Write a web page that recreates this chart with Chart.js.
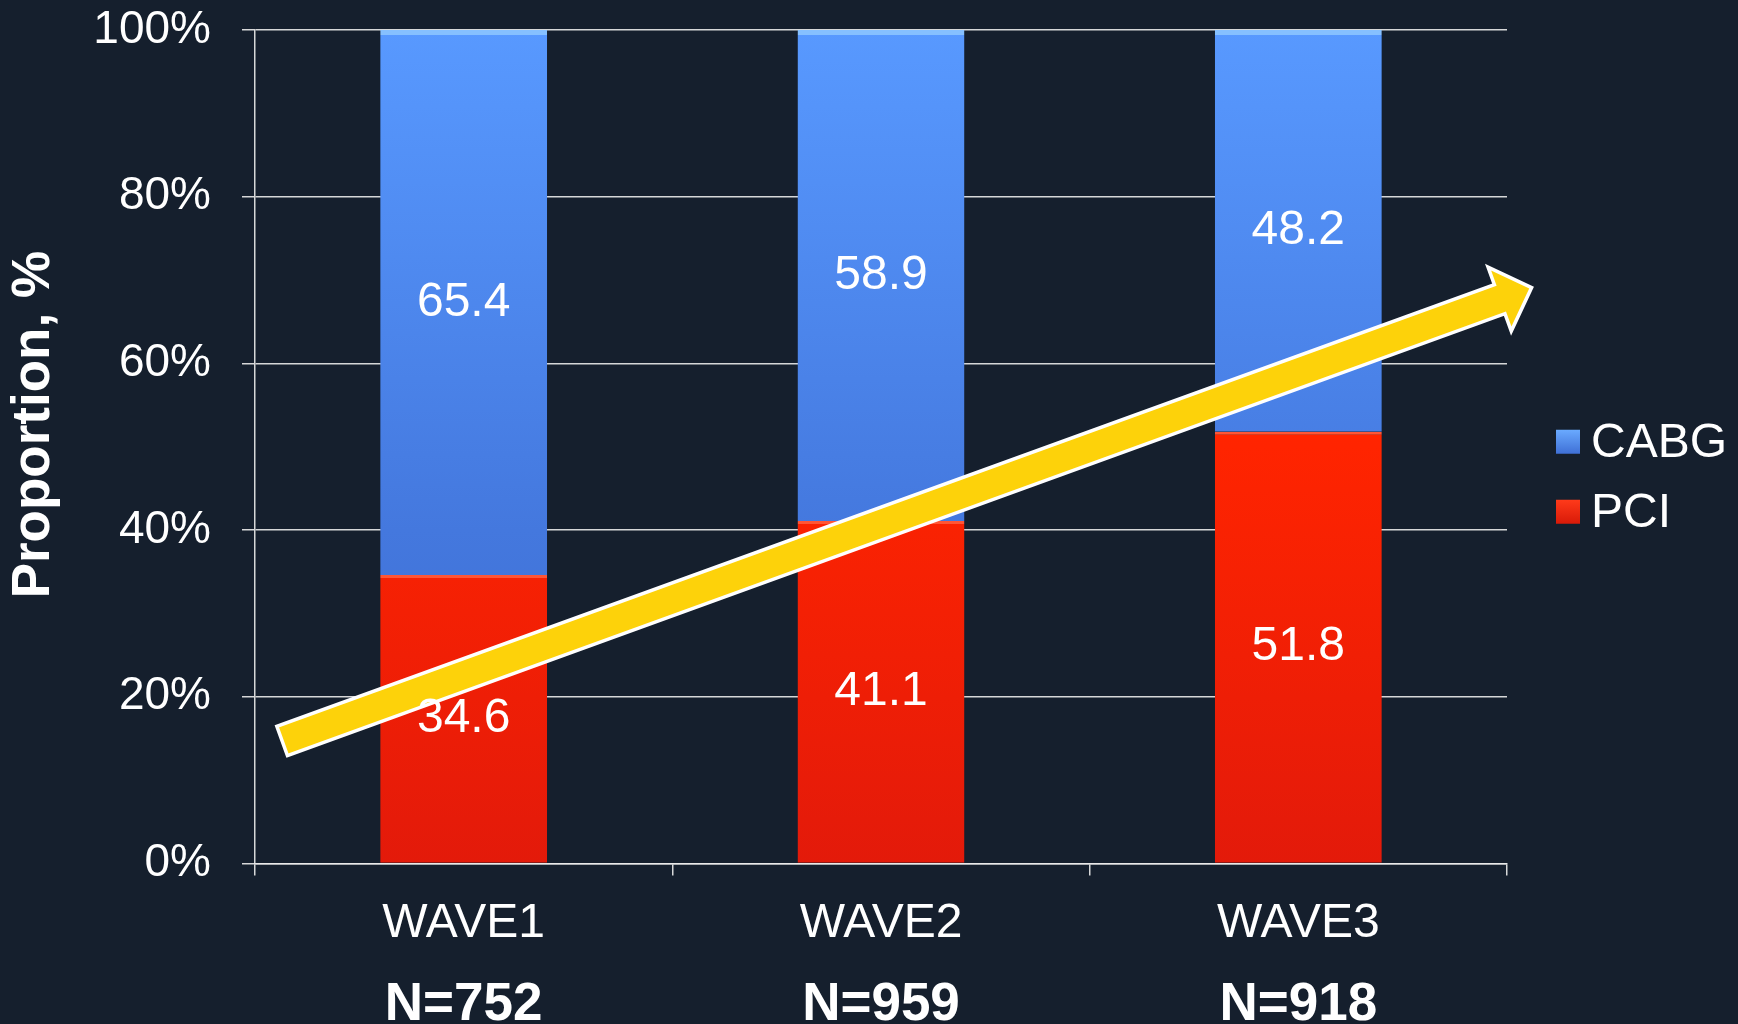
<!DOCTYPE html>
<html>
<head>
<meta charset="utf-8">
<title>PCI vs CABG by wave</title>
<script src="https://cdn.jsdelivr.net/npm/chart.js@4.4.1/dist/chart.umd.min.js"></script>
<style>
    html, body { margin: 0; padding: 0; background: #151f2d; }
    #grafico { display: block; }
</style>
</head>
<body>
<canvas id="grafico" width="1738" height="1024"></canvas>
<script>
// datos
const waves = ['WAVE1', 'WAVE2', 'WAVE3'];
const sampleSizes = ['N=752', 'N=959', 'N=918'];
const pciValues = [34.6, 41.1, 51.8];
const cabgValues = [65.4, 58.9, 48.2];
const yTicks = [0, 20, 40, 60, 80, 100];

// flecha de tendencia (en unidades de los ejes: indice de categoria, %)
const arrowFrom = { x: -0.435, y: 14.7 };
const arrowTo = { x: 2.559, y: 69.1 };

const FONT = '"Liberation Sans", Arial, sans-serif';
const GRID = 'rgba(235,235,235,0.9)';
Chart.defaults.font.family = FONT;
Chart.defaults.color = '#ffffff';

function gradiente(ctx, stops) {
    const area = ctx.chart.chartArea;
    if (!area) return stops[0][1];
    const g = ctx.chart.ctx.createLinearGradient(0, area.top, 0, area.bottom);
    stops.forEach(([pos, col]) => g.addColorStop(pos, col));
    return g;
}

const blueStops = [[0, '#5899ff'], [0.6, '#4478de'], [1, '#3a68cc']];
const redStops = [[0, '#ff3300'], [0.5, '#ff2400'], [1, '#e31a0a']];

// flecha amarilla
const arrowPlugin = {
    id: 'flecha',
    afterDatasetsDraw(chart) {
        const { ctx, scales: { x, y } } = chart;
        const t = { x: x.getPixelForValue(arrowFrom.x), y: y.getPixelForValue(arrowFrom.y) };
        const p = { x: x.getPixelForValue(arrowTo.x), y: y.getPixelForValue(arrowTo.y) };
        const len = Math.hypot(p.x - t.x, p.y - t.y);
        const u = { x: (p.x - t.x) / len, y: (p.y - t.y) / len };
        const n = { x: -u.y, y: u.x };
        const w = 15.5, hw = 34, hl = 34;
        const b = { x: p.x - u.x * hl, y: p.y - u.y * hl };
        const pts = [
            [t.x + n.x * w, t.y + n.y * w],
            [b.x + n.x * w, b.y + n.y * w],
            [b.x + n.x * hw, b.y + n.y * hw],
            [p.x, p.y],
            [b.x - n.x * hw, b.y - n.y * hw],
            [b.x - n.x * w, b.y - n.y * w],
            [t.x - n.x * w, t.y - n.y * w]
        ];
        ctx.save();
        ctx.beginPath();
        pts.forEach(([px, py], i) => i ? ctx.lineTo(px, py) : ctx.moveTo(px, py));
        ctx.closePath();
        ctx.fillStyle = '#fdd20a';
        ctx.fill();
        ctx.lineWidth = 3.5;
        ctx.lineJoin = 'miter';
        ctx.strokeStyle = '#ffffff';
        ctx.stroke();
        ctx.restore();
    }
};

// etiquetas de valor dentro de cada segmento
const valueLabels = {
    id: 'etiquetas',
    afterDatasetsDraw(chart) {
        const { ctx } = chart;
        ctx.save();
        ctx.font = '48px ' + FONT;
        ctx.fillStyle = '#ffffff';
        ctx.textAlign = 'center';
        ctx.textBaseline = 'middle';
        chart.data.datasets.forEach((ds, i) => {
            chart.getDatasetMeta(i).data.forEach((bar, j) => {
                const { x, y, base } = bar.getProps(['x', 'y', 'base'], true);
                ctx.fillText(ds.data[j].toFixed(1), x, (y + base) / 2);
            });
        });
        ctx.restore();
    }
};

// leyenda a la derecha (CABG arriba, PCI abajo)
const legendPlugin = {
    id: 'leyenda',
    afterDraw(chart) {
        const { ctx, chartArea } = chart;
        const items = chart.data.datasets.slice().reverse();
        const x0 = chartArea.right + 49;
        const yMid = (chartArea.top + chartArea.bottom) / 2;
        ctx.save();
        ctx.font = '48px ' + FONT;
        ctx.textBaseline = 'middle';
        items.forEach((ds, i) => {
            const cy = yMid - 5 + i * 70;
            const g = ctx.createLinearGradient(0, cy - 12, 0, cy + 12);
            g.addColorStop(0, ds.legendTop);
            g.addColorStop(1, ds.legendBottom);
            ctx.fillStyle = g;
            ctx.fillRect(x0, cy - 12, 24, 24);
            ctx.fillStyle = '#ffffff';
            ctx.fillText(ds.label, x0 + 35, cy + 2);
        });
        ctx.restore();
    }
};

const ctx = document.getElementById('grafico').getContext('2d');
new Chart(ctx, {
    type: 'bar',
    data: {
        labels: waves,
        datasets: [
            {
                label: 'PCI',
                data: pciValues,
                backgroundColor: c => gradiente(c, redStops),
                borderColor: '#ff5535',
                borderWidth: { top: 3, left: 0, right: 0, bottom: 0 },
                borderSkipped: false,
                legendTop: '#ff3a1a',
                legendBottom: '#d81a08',
                barPercentage: 0.4,
                categoryPercentage: 1
            },
            {
                label: 'CABG',
                data: cabgValues,
                backgroundColor: c => gradiente(c, blueStops),
                borderColor: '#86c0ff',
                borderWidth: { top: 5, left: 0, right: 0, bottom: 0 },
                borderSkipped: false,
                legendTop: '#6aaaff',
                legendBottom: '#3f70d6',
                barPercentage: 0.4,
                categoryPercentage: 1
            }
        ]
    },
    options: {
        responsive: false,
        animation: false,
        devicePixelRatio: 1,
        layout: { padding: { top: 0, right: 231, bottom: 0, left: 0 } },
        plugins: {
            legend: { display: false },
            tooltip: { enabled: false }
        },
        scales: {
            x: {
                stacked: true,
                weight: 0,
                grid: { display: true, drawOnChartArea: false, drawTicks: true, tickLength: 12, color: GRID, lineWidth: 1.5 },
                border: { display: true, color: GRID, width: 1.5 },
                ticks: { font: { size: 48 }, color: '#ffffff', padding: 19 },
                afterFit: s => { s.height = 105; }
            },
            x2: {
                type: 'category',
                position: 'bottom',
                labels: sampleSizes,
                offset: true,
                weight: 1,
                grid: { display: false, drawTicks: false },
                border: { display: false },
                ticks: { font: { size: 53, weight: 'bold' }, color: '#ffffff', padding: 5 },
                afterFit: s => { s.height = 55.5; }
            },
            y: {
                stacked: true,
                min: 0,
                max: 100,
                afterBuildTicks: s => { s.ticks = yTicks.map(v => ({ value: v })); },
                grid: { color: GRID, lineWidth: 1.5, tickLength: 13 },
                border: { display: true, color: GRID, width: 1.5 },
                ticks: {
                    font: { size: 46 },
                    color: '#ffffff',
                    padding: 31,
                    callback: v => v + '%'
                },
                title: {
                    display: true,
                    text: '   Proportion, %',
                    color: '#ffffff',
                    font: { size: 53, weight: 'bold', lineHeight: 1 },
                    padding: { top: 8, bottom: 0 }
                },
                afterFit: s => {
                    s.width = 255;
                    s.paddingTop = 30;
                    s.paddingBottom = 0;
                }
            }
        }
    },
    plugins: [arrowPlugin, valueLabels, legendPlugin]
});
</script>
</body>
</html>
